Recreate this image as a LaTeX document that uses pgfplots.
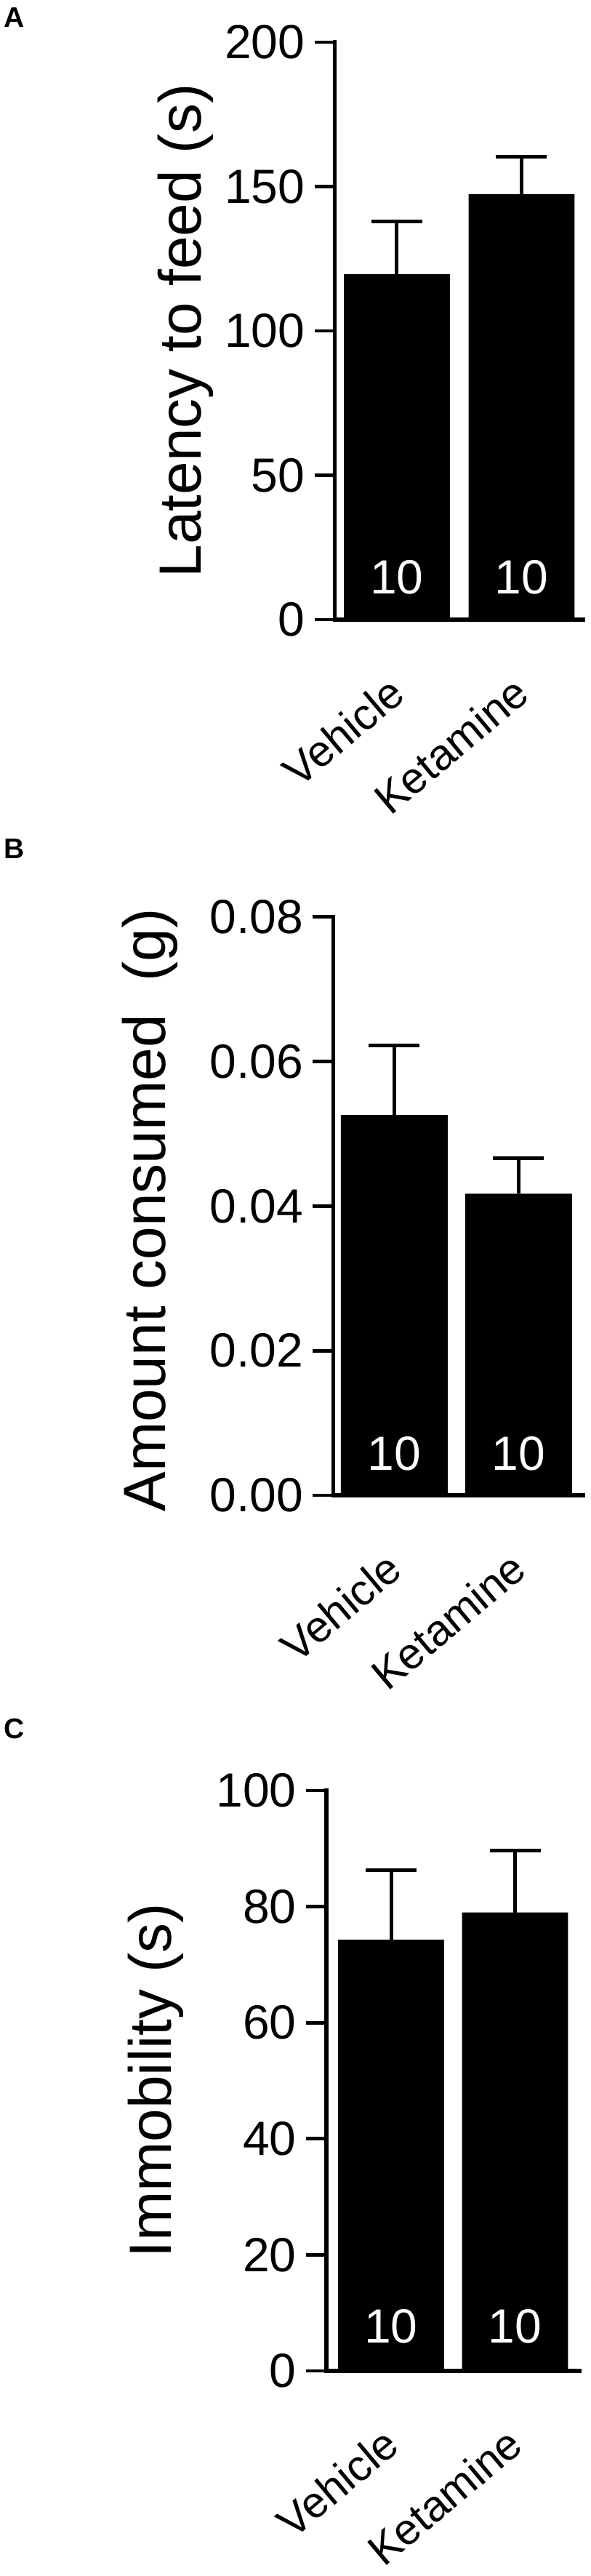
\documentclass[border=0pt]{standalone}
\usepackage{pgfplots}
\pgfplotsset{compat=1.18}
\usepackage{fontspec}
\setmainfont{Liberation Sans}

\pgfplotsset{
  panel/.style={
    scale only axis,
    clip=false,
    axis x line*=bottom,
    axis y line*=left,
    axis line style={-, line width=2.6pt, line cap=rect},
    tick align=outside,
    major tick length=14pt,
    ytick style={line width=2.4pt, black},
    xtick style={draw=none},
    xtick={0,1},
    xticklabels={Vehicle,Ketamine},
    /pgf/number format/assume math mode=true,
    yticklabel style={font=\fontsize{33}{36}\selectfont, inner sep=0pt, xshift=-6.5pt},
    xticklabel style={font=\fontsize{30}{34}\selectfont, inner sep=0pt, xshift=-7pt, yshift=-23pt, rotate=40, anchor=north east},
    scaled y ticks=false,
    ybar,
    ymin=0,
  },
  barstyle/.style={
    fill=black, draw=none,
    error bars/.cd,
      y dir=plus, y explicit,
      error bar style={draw=black, solid, line width=2.5pt},
      error mark=|,
      error mark options={draw=black, solid, line width=2.5pt, mark size=17.5pt},
  },
}
\tikzset{
  nlab/.style={text=white, font=\fontsize{33}{36}\selectfont, anchor=base, inner sep=0pt},
  plab/.style={anchor=north west, inner sep=0pt, font=\bfseries\fontsize{19.5}{22}\selectfont},
}

\begin{document}
\begin{tikzpicture}
\useasboundingbox (0,0) rectangle (406.5pt,1771pt);

% Panel A
\begin{axis}[panel,
  at={(230.3pt,1345pt)}, anchor=south west,
  width=170.7pt, height=397pt,
  xmin=-0.498, xmax=1.493, ymax=200,
  bar width=0.851,
  ytick={0,50,100,150,200},
  ylabel={Latency to feed (s)},
  every axis y label/.style={at={(rel axis cs:-0.602,0.5)}, rotate=90, anchor=center, font=\fontsize{41}{46}\selectfont},
]
\addplot[barstyle] coordinates {(0,119.7) +- (0,18.2) (1,147.3) +- (0,12.9)};
\node[nlab, yshift=17.5pt] at (axis cs:0,0) {10};
\node[nlab, yshift=17.5pt] at (axis cs:1,0) {10};
\node[plab] at (rel axis cs:-1.3345,1.0598) {A};
\end{axis}

% Panel B
\begin{axis}[panel,
  at={(229.25pt,743pt)}, anchor=south west,
  width=171.75pt, height=397.65pt,
  xmin=-0.491, xmax=1.518, ymax=0.08,
  bar width=0.86,
  ytick={0,0.02,0.04,0.06,0.08},
  yticklabels={0.00,0.02,0.04,0.06,0.08},
  ylabel={Amount consumed~~(g)},
  every axis y label/.style={at={(rel axis cs:-0.735,0.493)}, rotate=90, anchor=center, font=\fontsize{41}{46}\selectfont},
]
\addplot[barstyle] coordinates {(0,0.0526) +- (0,0.0096) (1,0.0417) +- (0,0.0049)};
\node[nlab, yshift=17pt] at (axis cs:0,0) {10};
\node[nlab, yshift=17pt] at (axis cs:1,0) {10};
\node[plab] at (rel axis cs:-1.320,1.1348) {B};
\end{axis}

% Panel C
\begin{axis}[panel,
  at={(224.5pt,141pt)}, anchor=south west,
  width=174pt, height=399pt,
  xmin=-0.522, xmax=1.519, ymax=100,
  bar width=0.856,
  ytick={0,20,40,60,80,100},
  ylabel={Immobility (s)},
  every axis y label/.style={at={(rel axis cs:-0.675,0.5)}, rotate=90, anchor=center, font=\fontsize{41}{46}\selectfont},
]
\addplot[barstyle] coordinates {(0,74.3) +- (0,12.0) (1,79.0) +- (0,10.7)};
\node[nlab, yshift=19pt] at (axis cs:0,0) {10};
\node[nlab, yshift=19pt] at (axis cs:1,0) {10};
\node[plab] at (rel axis cs:-1.276,1.124) {C};
\end{axis}
\end{tikzpicture}
\end{document}
